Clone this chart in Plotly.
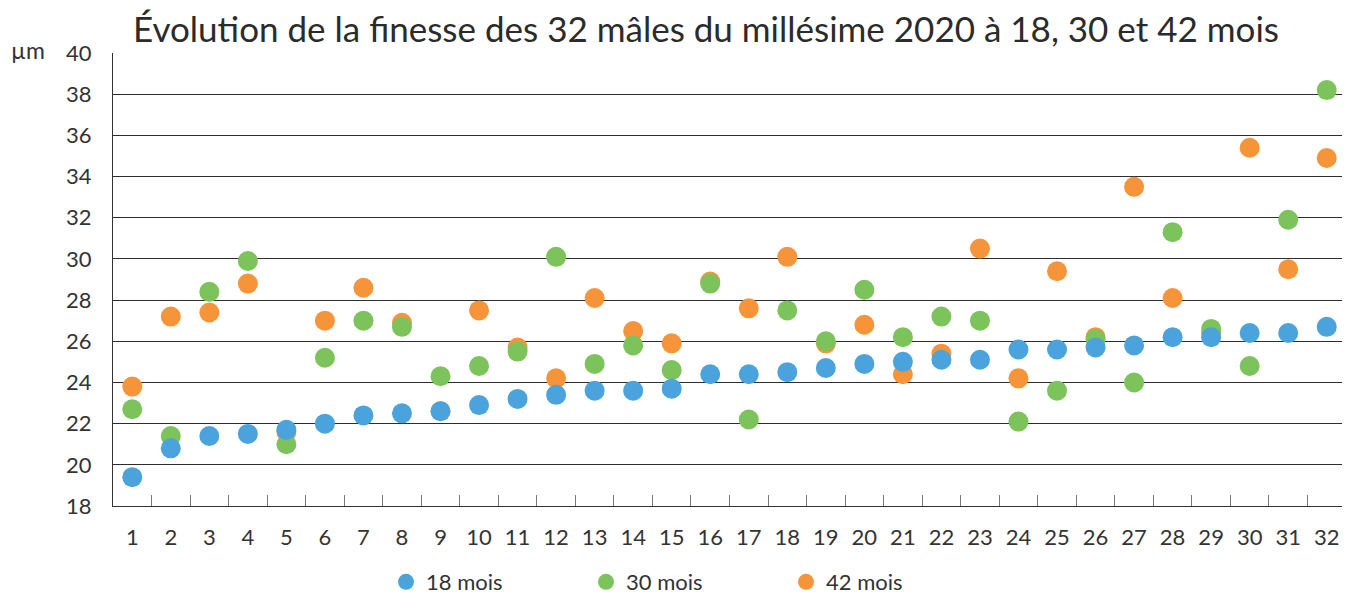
import plotly.graph_objects as go

categories = [str(i) for i in range(1, 33)]
mois18 = [19.4, 20.8, 21.4, 21.5, 21.7, 22.0, 22.4, 22.5, 22.6, 22.9,
          23.2, 23.4, 23.6, 23.6, 23.7, 24.4, 24.4, 24.5, 24.7, 24.9,
          25.0, 25.1, 25.1, 25.6, 25.6, 25.7, 25.8, 26.2, 26.2, 26.4,
          26.4, 26.7]
mois30 = [22.7, 21.4, 28.4, 29.9, 21.0, 25.2, 27.0, 26.7, 24.3, 24.8,
          25.5, 30.1, 24.9, 25.8, 24.6, 28.8, 22.2, 27.5, 26.0, 28.5,
          26.2, 27.2, 27.0, 22.1, 23.6, 26.1, 24.0, 31.3, 26.6, 24.8,
          31.9, 38.2]
mois42 = [23.8, 27.2, 27.4, 28.8, 21.6, 27.0, 28.6, 26.9, 22.6, 27.5,
          25.7, 24.2, 28.1, 26.5, 25.9, 28.9, 27.6, 30.1, 25.9, 26.8,
          24.4, 25.4, 30.5, 24.2, 29.4, 26.2, 33.5, 28.1, 26.4, 35.4,
          29.5, 34.9]
series_names = ["18 mois", "30 mois", "42 mois"]
colors = {"18 mois": "#4aa3dc", "30 mois": "#7bc35a", "42 mois": "#f6943a"}

FONT = "Lato"
fig = go.Figure()
# draw order: orange at bottom, then green, blue on top; legend order 18, 30, 42
for name, vals, rank in [("42 mois", mois42, 3), ("30 mois", mois30, 2), ("18 mois", mois18, 1)]:
    fig.add_trace(go.Scatter(
        x=categories, y=vals, mode="markers", name=name,
        legendrank=rank,
        marker=dict(size=20, color=colors[name], line=dict(width=0)),
    ))

# page body has an 8px default margin: work in figure coordinates (screen - 8)
OFF = 8
W, H = 1350, 598
L = 113 - OFF
T = 53 - OFF
R = W - (1346 - OFF)
B = H - (506 - OFF)
pw = W - L - R
ph = H - T - B

def px_to_paper_x(sx):
    return (sx - OFF - L) / pw

def px_to_paper_y(sy):
    return (H - B - (sy - OFF)) / ph

fig.update_layout(
    width=W, height=H,
    margin=dict(l=L, r=R, t=T, b=B, autoexpand=False),
    plot_bgcolor="white", paper_bgcolor="white",
    font=dict(family=FONT, color="#333333", size=22),
    title=dict(text="Évolution de la finesse des 32 mâles du millésime 2020 à 18, 30 et 42 mois",
               x=(706 - OFF) / W, xanchor="center", y=1 - (30 - OFF) / H, yanchor="middle",
               font=dict(family=FONT, size=35, color="#2b2b2b")),
    showlegend=True,
    legend=dict(orientation="h", x=px_to_paper_x(386), xanchor="left",
                y=px_to_paper_y(582), yanchor="middle",
                entrywidth=155, entrywidthmode="pixels",
                font=dict(size=22, color="#333333"), itemsizing="trace",
                traceorder="normal"),
    xaxis=dict(type="category", showgrid=False, showline=True, linecolor="#333333",
               linewidth=1, ticks="inside", tickson="boundaries", ticklen=11,
               tickcolor="#777777", tickfont=dict(size=22, color="#333333"),
               range=[-0.5, 31.5], zeroline=False, fixedrange=True,
               automargin=False, ticklabelstandoff=12),
    yaxis=dict(range=[18, 40], dtick=2, tick0=18, showgrid=True, gridcolor="#2e2e2e",
               gridwidth=1, showline=True, linecolor="#333333", linewidth=1,
               ticks="", tickfont=dict(size=22, color="#333333"), zeroline=False,
               ticklabelstandoff=16, automargin=False),
)
fig.add_annotation(text="µm", xref="paper", yref="paper", x=px_to_paper_x(9), xanchor="left",
                   y=px_to_paper_y(50), yanchor="middle", showarrow=False,
                   font=dict(size=23, color="#333333", family=FONT))

fig.write_html("out.html")
